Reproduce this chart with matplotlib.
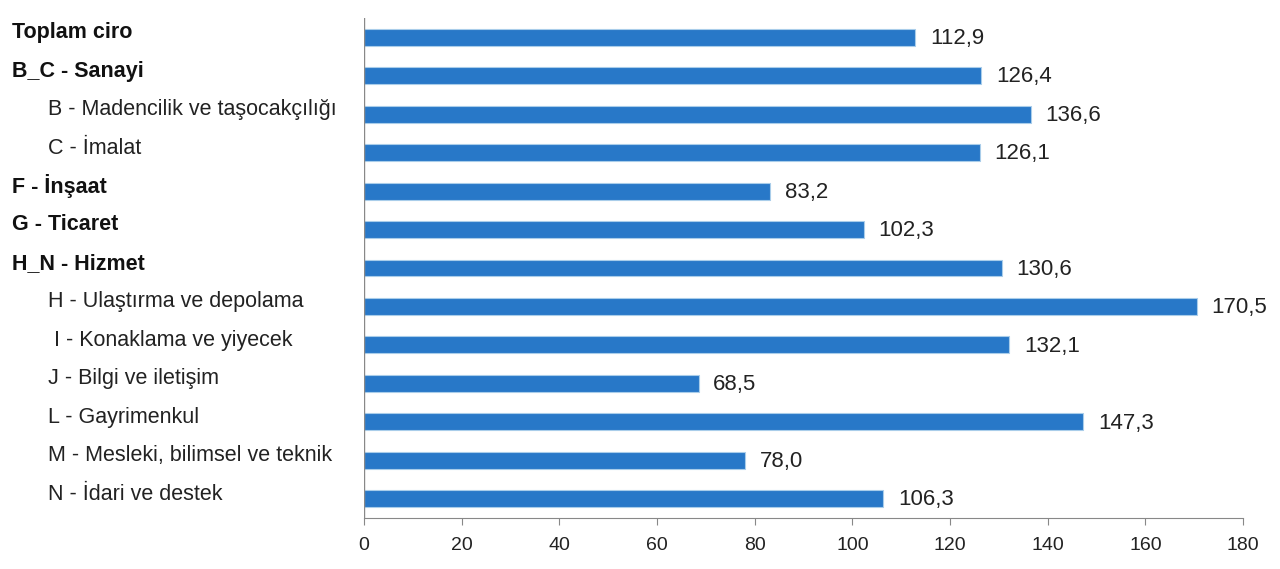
import matplotlib.pyplot as plt
from matplotlib import transforms

plt.rcParams['font.family'] = ['Liberation Sans', 'DejaVu Sans']

labels = ['Toplam ciro', 'B_C - Sanayi', 'B - Madencilik ve taşocakçılığı', 'C - İmalat',
          'F - İnşaat', 'G - Ticaret', 'H_N - Hizmet', 'H - Ulaştırma ve depolama',
          ' I - Konaklama ve yiyecek', 'J - Bilgi ve iletişim', 'L - Gayrimenkul',
          'M - Mesleki, bilimsel ve teknik', 'N - İdari ve destek']
values = [112.9, 126.4, 136.6, 126.1, 83.2, 102.3, 130.6, 170.5, 132.1, 68.5, 147.3, 78.0, 106.3]
is_main = [True, True, False, False, True, True, True, False, False, False, False, False, False]

fig = plt.figure(figsize=(12.8, 5.69), dpi=100)
ax = fig.add_axes([0.2844, 0.0896, 0.6867, 0.8787])

y = range(len(values))
ax.barh(y, values, height=0.44, color='#2878c8', edgecolor='#a9cdea', linewidth=0.8)

ax.set_xlim(0, 180)
ax.set_ylim(len(values) - 0.5, -0.5)
ax.set_xticks(range(0, 181, 20))
ax.tick_params(axis='x', labelsize=14, length=5, color='#888888', pad=9, labelcolor='#222222')
ax.set_yticks([])

for s in ['top', 'right', 'left']:
    ax.spines[s].set_visible(False)
ax.spines['bottom'].set_color('#888888')
ax.axvline(0, color='#888888', lw=1)

# value labels with comma decimals
for i, v in enumerate(values):
    ax.text(v + 3, i + 0.03, f'{v:.1f}'.replace('.', ','), va='center', ha='left',
            fontsize=16, color='#222222')

# category labels: main rows bold at the left edge, sub rows indented
trans = transforms.blended_transform_factory(fig.transFigure, ax.transData)
for i, (lab, main) in enumerate(zip(labels, is_main)):
    if main:
        ax.text(12 / 1280, i - 0.12, lab, transform=trans, va='center', ha='left',
                fontsize=15.5, fontweight='bold', color='#111111')
    else:
        ax.text(48 / 1280, i - 0.12, lab, transform=trans, va='center', ha='left',
                fontsize=15.5, color='#222222')

fig.savefig('out.png', dpi=100)
